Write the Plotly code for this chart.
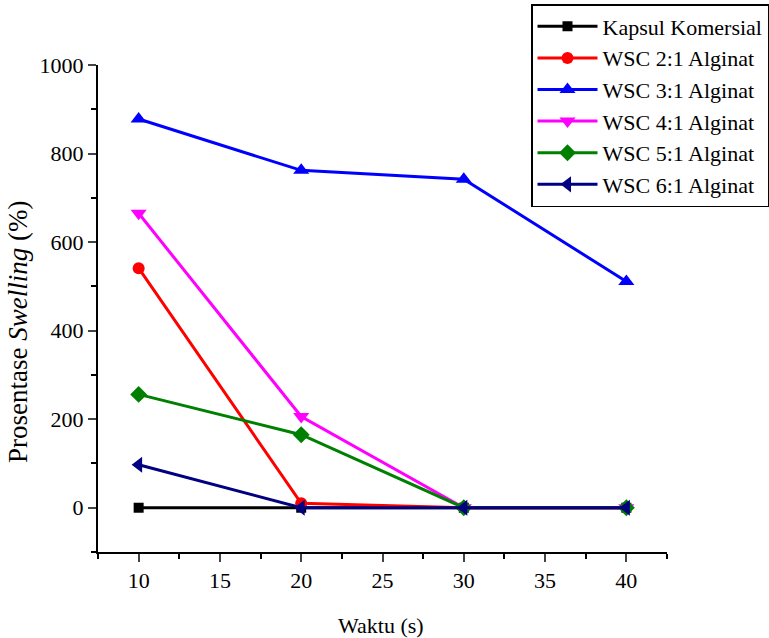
import plotly.graph_objects as go

waktu = [10, 20, 30, 40]
kapsul = [0, 0, 0, 0]
wsc21 = [541, 10, 0, 0]
wsc31 = [878, 762, 742, 511]
wsc41 = [665, 206, 0, 0]
wsc51 = [256, 165, 0, 0]
wsc61 = [97, 0, 0, 0]

names = ["Kapsul Komersial", "WSC 2:1 Alginat", "WSC 3:1 Alginat",
         "WSC 4:1 Alginat", "WSC 5:1 Alginat", "WSC 6:1 Alginat"]
series = [kapsul, wsc21, wsc31, wsc41, wsc51, wsc61]
colors = ["#000000", "#ff0000", "#0000ff", "#ff00ff", "#008000", "#000080"]
symbols = ["square", "circle", "triangle-up", "triangle-down", "diamond", "triangle-left"]
msizes = [10, 12, 14, 14, 13, 14]

fig = go.Figure()
for i, (n, s, c, m, ms) in enumerate(zip(names, series, colors, symbols, msizes)):
    fig.add_trace(go.Scatter(
        x=waktu, y=s, name=n, mode="lines+markers",
        line=dict(color=c, width=3),
        marker=dict(symbol=m, size=ms, color=c),
        legendgroup=str(i),
    ))

font = "Liberation Serif"
W, H = 769, 638
L, R, T, B = 98, 2, 0, 86
pw = W - L - R
ph = H - T - B
fig.update_layout(
    width=W, height=H,
    margin=dict(l=L, r=R, t=T, b=B, autoexpand=False),
    plot_bgcolor="white", paper_bgcolor="white",
    font=dict(family=font, size=22, color="black"),
    showlegend=True,
    legend=dict(x=(531 - L) / pw, y=(H - B - 4) / ph, xanchor="left", yanchor="top",
                bordercolor="black", borderwidth=1.5, bgcolor="white",
                font=dict(family=font, size=22),
                tracegroupgap=0, itemwidth=60),
    xaxis=dict(domain=[0, 569 / pw], range=[7.5, 42.5], tickvals=[10, 15, 20, 25, 30, 35, 40],
               showgrid=False, zeroline=False, showline=True, linecolor="black",
               linewidth=2, ticks="outside", ticklen=8, tickwidth=2,
               tickfont=dict(family=font, size=22),
               minor=dict(tickvals=[7.5, 12.5, 17.5, 22.5, 27.5, 32.5, 37.5, 42.5],
                          ticks="outside", ticklen=5, tickwidth=1.5, tickcolor="black")),
    yaxis=dict(domain=[0, 487 / ph], range=[-100, 1000], tickvals=[0, 200, 400, 600, 800, 1000],
               showgrid=False, zeroline=False, showline=True, linecolor="black",
               linewidth=2, ticks="outside", ticklen=8, tickwidth=2,
               tickfont=dict(family=font, size=22),
               minor=dict(tickvals=[-100, 100, 300, 500, 700, 900],
                          ticks="outside", ticklen=5, tickwidth=1.5, tickcolor="black")),
    annotations=[
        dict(text="Waktu (s)", xref="paper", yref="paper", x=(381 - L) / pw, y=0,
             xanchor="center", yanchor="middle", yshift=-73, showarrow=False,
             font=dict(family=font, size=22)),
        dict(text="Prosentase <i>Swelling</i> (%)", xref="paper", yref="paper",
             x=0, y=(552 - 332) / ph, xshift=-80, xanchor="center", yanchor="middle",
             textangle=-90, showarrow=False, font=dict(family=font, size=27)),
    ],
)
fig.write_html("out.html")
